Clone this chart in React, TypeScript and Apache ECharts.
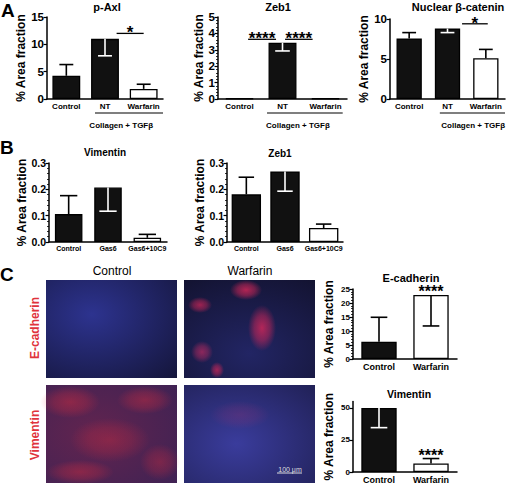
import React, { useEffect, useRef } from "react";
import * as echarts from "echarts";

// ---------- Panel A ----------
const catsA = ["Control", "NT", "Warfarin"];
const pAxlMean = [4.25, 11.0, 1.85];
const pAxlErrEnd = [6.3, 7.9, 2.7];
const zebAMean = [0.03, 3.43, 0.03];
const zebAErrEnd = [0.03, 2.93, 0.03];
const catenMean = [7.55, 8.8, 5.1];
const catenErrEnd = [8.3, 8.3, 6.2];
const fillsA = ["#111", "#111", "#fff"];
const ticksPAxl = { max: 15, interval: 5 };
const ticksZebA = { max: 5, interval: 1 };
const ticksCaten = { max: 10, interval: 5 };

// ---------- Panel B ----------
const catsB = ["Control", "Gas6", "Gas6+10C9"];
const vimBMean = [0.106, 0.207, 0.016];
const vimBErrEnd = [0.176, 0.117, 0.029];
const zebBMean = [0.181, 0.268, 0.053];
const zebBErrEnd = [0.246, 0.193, 0.068];
const fillsB = ["#111", "#111", "#fff"];
const ticksB = { max: 0.3, interval: 0.1 };

// ---------- Panel C ----------
const catsC = ["Control", "Warfarin"];
const ecadMean = [6.2, 22.9];
const ecadErrEnd = [14.9, 11.8];
const vimCMean = [50, 6.7];
const vimCErrEnd = [34.6, 10.5];
const fillsC = ["#111", "#fff"];
const ticksEcad = { max: 25, interval: 5 };
const ticksVimC = { max: 55, interval: 25 };

// ---------- annotations (significance) ----------
const annPAxl = [
  { kind: "sig", from: 1.3, to: 2.0, y: 12.0, text: "*" },
  { kind: "group", from: 0.74, to: 2.5, text: "Collagen + TGFβ", at: 1.42 },
];
const annZebA = [
  { kind: "sig", from: 0.2, to: 0.85, y: 3.64, text: "****" },
  { kind: "sig", from: 1.06, to: 1.7, y: 3.64, text: "****" },
  { kind: "group", from: 0.64, to: 2.4, text: "Collagen + TGFβ", at: 1.36 },
];
const annCaten = [
  { kind: "sig", from: 1.38, to: 2.05, y: 9.4, text: "*" },
  { kind: "group", from: 0.8, to: 2.5, text: "Collagen + TGFβ", at: 1.67 },
];
const annEcad = [{ kind: "star", at: 1, y: 24.6, text: "****" }];
const annVimC = [{ kind: "star", at: 1, y: 13.5, text: "****" }];

const FONT = "'Liberation Sans', Arial, Helvetica, sans-serif";

type ChartSpec = {
  grid: { left: number; top: number; width: number; height: number };
  cats: string[];
  mean: number[];
  errEnd: number[];
  fills: string[];
  ticks: { max: number; interval: number };
  minor: boolean;
  decimals: number;
  tickFont: number;
  catFont: number;
  nameGap: number;
  barWidth: string;
  capFrac: number;
  ann: any[];
  hideMax?: boolean;
  starFont: number;
};

function buildChart(spec: ChartSpec, gi: number) {
  const xAxis = {
    type: "category",
    gridIndex: gi,
    data: spec.cats,
    axisLine: { lineStyle: { color: "#000", width: 1.5 } },
    axisTick: { show: false },
    axisLabel: {
      color: "#000",
      fontSize: spec.catFont,
      fontWeight: "bold",
      fontFamily: FONT,
      margin: 3,
      interval: 0,
    },
  };
  const yAxis = {
    type: "value",
    gridIndex: gi,
    min: 0,
    max: spec.ticks.max,
    interval: spec.ticks.interval,
    axisLine: { show: true, lineStyle: { color: "#000", width: 1.5 } },
    axisTick: { show: true, length: 3.5, lineStyle: { color: "#000", width: 1.2 } },
    minorTick: { show: spec.minor, splitNumber: 5, length: 2, lineStyle: { color: "#000", width: 0.8 } },
    splitLine: { show: false },
    axisLabel: {
      color: "#000",
      fontSize: spec.tickFont,
      fontWeight: "bold",
      fontFamily: FONT,
      margin: 3,
      showMaxLabel: spec.hideMax ? false : true,
      formatter: (v: number) => v.toFixed(spec.decimals),
    },
    name: "% Area fraction",
    nameLocation: "middle",
    nameRotate: 90,
    nameGap: spec.nameGap,
    nameTextStyle: { color: "#000", fontSize: 12, fontWeight: "bold", fontFamily: FONT },
  };
  const bar = {
    type: "bar",
    xAxisIndex: gi,
    yAxisIndex: gi,
    barWidth: spec.barWidth,
    silent: true,
    data: spec.mean.map((v, i) => ({
      value: v,
      itemStyle: { color: spec.fills[i], borderColor: "#000", borderWidth: 1.3 },
    })),
    z: 2,
  };
  const err = {
    type: "custom",
    xAxisIndex: gi,
    yAxisIndex: gi,
    silent: true,
    clip: false,
    z: 5,
    data: spec.mean.map((m, i) => [i, m, spec.errEnd[i]]),
    renderItem: (params: any, api: any) => {
      const i = api.value(0);
      const m = api.value(1);
      const e = api.value(2);
      if (Math.abs(e - m) < 1e-9) return { type: "group", children: [] };
      const p0 = api.coord([i, m]);
      const p1 = api.coord([i, e]);
      const bw = api.size([1, 0])[0];
      const cap = bw * spec.capFrac;
      const white = e < m && spec.fills[i] !== "#fff";
      const stroke = white ? "#fff" : "#000";
      return {
        type: "group",
        children: [
          { type: "line", shape: { x1: p0[0], y1: p0[1], x2: p1[0], y2: p1[1] }, style: { stroke, lineWidth: 1.6 } },
          { type: "line", shape: { x1: p1[0] - cap, y1: p1[1], x2: p1[0] + cap, y2: p1[1] }, style: { stroke, lineWidth: 1.6 } },
        ],
      };
    },
  };
  const fs = spec.starFont;
  const ann = {
    type: "custom",
    xAxisIndex: gi,
    yAxisIndex: gi,
    silent: true,
    clip: false,
    z: 6,
    data: spec.ann.map(() => [0, 0]),
    renderItem: (params: any, api: any) => {
      const a = spec.ann[params.dataIndex];
      const base = api.coord([0, 0]);
      const bw = api.size([1, 0])[0];
      const px = (f: number) => base[0] + f * bw;
      if (a.kind === "group") {
        const ly = base[1] + 14;
        return {
          type: "group",
          children: [
            { type: "line", shape: { x1: px(a.from), y1: ly, x2: px(a.to), y2: ly }, style: { stroke: "#000", lineWidth: 1.2 } },
            {
              type: "text",
              x: px(a.at),
              y: ly + 12,
              style: { text: a.text, fill: "#000", fontSize: 8, fontWeight: "bold", fontFamily: FONT, align: "center", verticalAlign: "middle" },
            },
          ],
        };
      }
      if (a.kind === "sig") {
        const yy = api.coord([0, a.y])[1];
        return {
          type: "group",
          children: [
            { type: "line", shape: { x1: px(a.from), y1: yy, x2: px(a.to), y2: yy }, style: { stroke: "#000", lineWidth: 1.3 } },
            {
              type: "text",
              x: (px(a.from) + px(a.to)) / 2,
              y: yy + 0.58 * fs - 2,
              style: { text: a.text, fill: "#000", fontSize: fs, fontWeight: "bold", fontFamily: FONT, align: "center", verticalAlign: "bottom" },
            },
          ],
        };
      }
      const yy = api.coord([0, a.y])[1];
      return {
        type: "text",
        x: px(a.at),
        y: yy + 1,
        style: { text: a.text, fill: "#000", fontSize: fs, lineHeight: 9, fontWeight: "bold", fontFamily: FONT, align: "center", verticalAlign: "middle" },
      };
    },
  };
  return {
    grid: { ...spec.grid, containLabel: false },
    xAxis,
    yAxis,
    series: [bar, err, ann],
  };
}

const specs: ChartSpec[] = [
  {
    grid: { left: 47, top: 17, width: 116, height: 82 },
    cats: catsA, mean: pAxlMean, errEnd: pAxlErrEnd, fills: fillsA, ticks: ticksPAxl,
    minor: false, decimals: 0, tickFont: 11.5, catFont: 8, nameGap: 17, barWidth: "72%", capFrac: 0.18,
    ann: annPAxl, starFont: 17,
  },
  {
    grid: { left: 218, top: 17, width: 129, height: 82 },
    cats: catsA, mean: zebAMean, errEnd: zebAErrEnd, fills: fillsA, ticks: ticksZebA,
    minor: true, decimals: 0, tickFont: 11.5, catFont: 8, nameGap: 10, barWidth: "65%", capFrac: 0.17,
    ann: annZebA, starFont: 17,
  },
  {
    grid: { left: 390, top: 19, width: 115, height: 80 },
    cats: catsA, mean: catenMean, errEnd: catenErrEnd, fills: fillsA, ticks: ticksCaten,
    minor: false, decimals: 0, tickFont: 11.5, catFont: 8, nameGap: 11, barWidth: "66%", capFrac: 0.18,
    ann: annCaten, starFont: 17,
  },
  {
    grid: { left: 49, top: 163, width: 118, height: 79 },
    cats: catsB, mean: vimBMean, errEnd: vimBErrEnd, fills: fillsB, ticks: ticksB,
    minor: true, decimals: 1, tickFont: 10.5, catFont: 7, nameGap: 19, barWidth: "70%", capFrac: 0.22,
    ann: [], starFont: 15,
  },
  {
    grid: { left: 227, top: 163, width: 116, height: 79 },
    cats: catsB, mean: zebBMean, errEnd: zebBErrEnd, fills: fillsB, ticks: ticksB,
    minor: true, decimals: 1, tickFont: 10.5, catFont: 7, nameGap: 18, barWidth: "76%", capFrac: 0.2,
    ann: [], starFont: 15,
  },
  {
    grid: { left: 353, top: 289, width: 104, height: 70 },
    cats: catsC, mean: ecadMean, errEnd: ecadErrEnd, fills: fillsC, ticks: ticksEcad,
    minor: true, decimals: 0, tickFont: 8, catFont: 9, nameGap: 18, barWidth: "68%", capFrac: 0.16,
    ann: annEcad, starFont: 16,
  },
  {
    grid: { left: 353, top: 401.5, width: 104, height: 71.5 },
    cats: catsC, mean: vimCMean, errEnd: vimCErrEnd, fills: fillsC, ticks: ticksVimC,
    minor: false, decimals: 0, tickFont: 8, catFont: 9, nameGap: 18, barWidth: "68%", capFrac: 0.16,
    ann: annVimC, starFont: 16, hideMax: true,
  },
];

function txt(text: string, x: number, y: number, size: number, opts: any = {}) {
  return {
    type: "text",
    x,
    y,
    rotation: opts.rotation || 0,
    silent: true,
    z: 10,
    style: {
      text,
      fill: opts.fill || "#000",
      fontSize: size,
      fontWeight: opts.weight || "bold",
      fontFamily: FONT,
      align: opts.align || "center",
      verticalAlign: "middle",
    },
  };
}

function blob(cx: number, cy: number, rx: number, ry: number, color: string, a: number) {
  return {
    type: "ellipse",
    silent: true,
    z: 1,
    shape: { cx, cy, rx, ry },
    style: {
      fill: {
        type: "radial", x: 0.5, y: 0.5, r: 0.5,
        colorStops: [
          { offset: 0, color: `rgba(${color},${a})` },
          { offset: 0.55, color: `rgba(${color},${a * 0.6})` },
          { offset: 1, color: `rgba(${color},0)` },
        ],
      },
    },
  };
}

function micro(x: number, y: number, inner: string, outer: string, cx: number, cy: number) {
  return {
    type: "rect",
    silent: true,
    z: 0,
    shape: { x, y, width: 131, height: 98 },
    style: {
      fill: {
        type: "radial", x: cx, y: cy, r: 0.9,
        colorStops: [
          { offset: 0, color: inner },
          { offset: 1, color: outer },
        ],
      },
    },
  };
}

export default function App() {
  const ref = useRef<HTMLDivElement>(null);
  useEffect(() => {
    if (!ref.current) return;
    const chart = echarts.init(ref.current, undefined, { renderer: "svg" });
    const parts = specs.map((s, i) => buildChart(s, i));
    const graphic: any[] = [
      // panel letters
      txt("A", 1, 10, 19, { align: "left" }),
      txt("B", 0, 147, 19, { align: "left" }),
      txt("C", 0, 274, 19, { align: "left" }),
      // titles
      txt("p-Axl", 107, 7, 11),
      txt("Zeb1", 278, 7, 11),
      txt("Nuclear β-catenin", 458, 7, 11),
      txt("Vimentin", 105, 152, 10),
      txt("Zeb1", 280, 153, 10),
      txt("E-cadherin", 411, 278, 11),
      txt("Vimentin", 409, 394, 10.5),
      // microscopy panel labels
      txt("Control", 112, 271, 12, { weight: "normal" }),
      txt("Warfarin", 250, 271, 12, { weight: "normal" }),
      txt("E-cadherin", 35, 328, 12, { rotation: Math.PI / 2, fill: "#e0333c" }),
      txt("Vimentin", 35, 435, 12, { rotation: Math.PI / 2, fill: "#e0333c" }),
      // microscopy images (stylised)
      micro(46, 280, "#2d338f", "#15163c", 0.35, 0.35),
      micro(184, 280, "#222564", "#131331", 0.5, 0.75),
      micro(46, 385, "#62244f", "#3c2254", 0.35, 0.5),
      micro(184, 385, "#3a3c9c", "#1f1f52", 0.4, 0.6),
      blob(246, 290, 16, 10, "228,40,90", 0.75),
      blob(262, 328, 14, 23, "228,40,90", 0.75),
      blob(200, 305, 12, 8, "228,40,90", 0.65),
      blob(202, 352, 11, 11, "215,45,100", 0.6),
      blob(217, 370, 7, 8, "228,40,90", 0.65),
      blob(70, 402, 30, 16, "232,45,60", 0.4),
      blob(145, 400, 28, 14, "232,45,60", 0.38),
      blob(110, 440, 40, 22, "232,45,60", 0.32),
      blob(80, 472, 34, 12, "232,45,60", 0.38),
      blob(160, 462, 20, 18, "232,45,60", 0.32),
      blob(240, 415, 30, 14, "200,50,110", 0.2),
      // scale bar
      {
        type: "line", silent: true, z: 10,
        shape: { x1: 277, y1: 473, x2: 302, y2: 473 },
        style: { stroke: "#ddd", lineWidth: 1 },
      },
      txt("100 μm", 290, 469, 7, { weight: "normal", fill: "#ddd" }),
    ];
    chart.setOption({
      animation: false,
      backgroundColor: "#fff",
      grid: parts.map((p) => p.grid),
      xAxis: parts.map((p) => p.xAxis),
      yAxis: parts.map((p) => p.yAxis),
      series: parts.flatMap((p) => p.series),
      graphic,
    });
    return () => chart.dispose();
  }, []);
  return (
    <div
      ref={ref}
      style={{ position: "absolute", left: 0, top: 0, width: 520, height: 484, background: "#fff" }}
    />
  );
}
